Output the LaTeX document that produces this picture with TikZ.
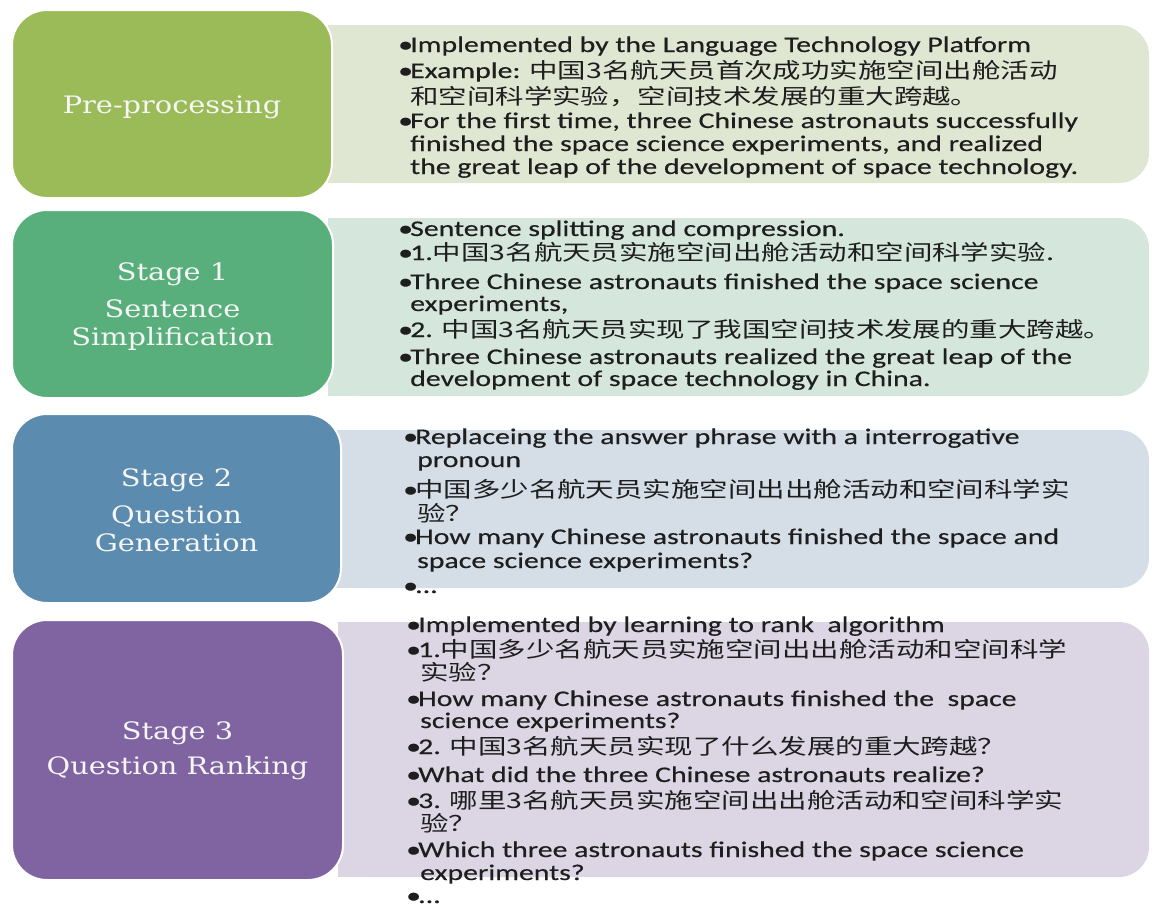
\documentclass[tikz,border=0pt]{standalone}
\usepackage{fontspec}
\setmainfont{Carlito}
\newfontfamily\bodyfont[FakeStretch=1.33,FakeBold=0.4]{Carlito}
\newfontfamily\zhfont[FakeStretch=1.33]{Noto Sans CJK SC}
\newfontfamily\labelfont[FakeStretch=1.2]{DejaVu Serif}
\newcommand\zh[1]{{\zhfont\fontsize{21.4}{23}\selectfont #1}}
\newcommand\bul{\makebox[12pt][l]{•}}
\definecolor{gA}{HTML}{9BBB59}
\definecolor{gB}{HTML}{58AF7B}
\definecolor{gC}{HTML}{5B8BAF}
\definecolor{gD}{HTML}{8064A2}
\definecolor{pA}{HTML}{DFE7D3}
\definecolor{pB}{HTML}{D5E7DC}
\definecolor{pC}{HTML}{D5DEE7}
\definecolor{pD}{HTML}{DCD6E4}
\definecolor{ink}{HTML}{1E1E1E}
\definecolor{paper}{HTML}{F6F6F6}
\begin{document}
\begin{tikzpicture}[x=1pt,y=-1pt,
  stagebox/.style={draw=white, line width=2pt, rounded corners=35pt, inner sep=0pt},
  stagetext/.style={align=center, text=paper, inner sep=0pt,
    font=\labelfont\fontsize{24}{28}\selectfont},
  ln/.style={anchor=base west, inner sep=0pt, text=ink,
    font=\bodyfont\fontsize{22.4}{23}\selectfont}]
\useasboundingbox (0,0) rectangle (1154,906);
% detail panels: square on the left, rounded on the right
\newcommand\panel[5]{%
  \fill[#1, rounded corners=30pt] (#2,#3) rectangle (#4,#5);
  \fill[#1] (#2,#3) rectangle ({#2+100},#5);}
\panel{pA}{328}{25}{1149}{183}
\panel{pB}{328}{218}{1149}{396}
\panel{pC}{336}{430}{1149}{588}
\panel{pD}{338}{622}{1149}{877}

% stage boxes
\node[stagebox, fill=gA, minimum width=320pt, minimum height=188pt] (s0) at (172,104) {};
\node[stagebox, fill=gB, minimum width=321pt, minimum height=188pt] (s1) at (172.5,304) {};
\node[stagebox, fill=gC, minimum width=329pt, minimum height=189pt] (s2) at (176.5,508.5) {};
\node[stagebox, fill=gD, minimum width=331pt, minimum height=260pt] (s3) at (177.5,750) {};

% stage titles
\node[stagetext, yshift=-3pt] (t0) at (s0.center) {Pre-processing};
\node[stagetext, yshift=-3pt] (t1) at (s1.center) {Stage 1\\[9pt]Sentence\\Simplification};
\node[stagetext, yshift=-2pt] (t2) at (s2.center) {Stage 2\\[9pt]Question\\Generation};
\node[stagetext, yshift=-1pt] (t3) at (s3.center) {Stage 3\\[7pt]Question Ranking};

% pre-processing details
\node[ln] (a1) at (398,52) {\bul Implemented by the Language Technology Platform};
\node[ln] (a2) at (398,78) {\bul Example: \zh{中国3名航天员首次成功实施空间出舱活动}};
\node[ln] (a3) at (410,104) {\zh{和空间科学实验，空间技术发展的重大跨越。}};
\node[ln] (a4) at (398,128) {\bul For the first time, three Chinese astronauts successfully};
\node[ln] (a5) at (410,151) {finished the space science experiments, and realized};
\node[ln] (a6) at (410,174) {the great leap of the development of space technology.};

% stage 1 details
\node[ln] (b1) at (398,236) {\bul Sentence splitting and compression.};
\node[ln] (b2) at (398,260) {\bul 1.\zh{中国3名航天员实施空间出舱活动和空间科学实验}.};
\node[ln] (b3) at (398,289) {\bul Three Chinese astronauts finished the space science};
\node[ln] (b4) at (410,311) {experiments,};
\node[ln] (b5) at (398,337) {\bul 2. \zh{中国3名航天员实现了我国空间技术发展的重大跨越。}};
\node[ln] (b6) at (398,364) {\bul Three Chinese astronauts realized the great leap of the};
\node[ln] (b7) at (410,386) {development of space technology in China.};

% stage 2 details
\node[ln] (c1) at (403,444) {\bul Replaceing the answer phrase with a interrogative};
\node[ln] (c2) at (417,467) {pronoun};
\node[ln] (c3) at (403,497) {\bul \zh{中国多少名航天员实施空间出出舱活动和空间科学实}};
\node[ln] (c4) at (417,521) {\zh{验？}};
\node[ln] (c5) at (403,544) {\bul How many Chinese astronauts finished the space and};
\node[ln] (c6) at (417,568) {space science experiments?};
\node[ln] (c7) at (403,593) {\bul ...};

% stage 3 details
\node[ln] (d1) at (406,632) {\bul Implemented by learning to rank\ \ algorithm};
\node[ln] (d2) at (406,657) {\bul 1.\zh{中国多少名航天员实施空间出出舱活动和空间科学}};
\node[ln] (d3) at (420,680) {\zh{实验？}};
\node[ln] (d4) at (406,706) {\bul How many Chinese astronauts finished the\ \ space};
\node[ln] (d5) at (420,728) {science experiments?};
\node[ln] (d6) at (406,754) {\bul 2. \zh{中国3名航天员实现了什么发展的重大跨越？}};
\node[ln] (d7) at (406,782) {\bul What did the three Chinese astronauts realize?};
\node[ln] (d8) at (406,808) {\bul 3. \zh{哪里3名航天员实施空间出出舱活动和空间科学实}};
\node[ln] (d9) at (420,831) {\zh{验？}};
\node[ln] (d10) at (406,857) {\bul Which three astronauts finished the space science};
\node[ln] (d11) at (420,880) {experiments?};
\node[ln] (d12) at (406,903) {\bul ...};
\end{tikzpicture}
\end{document}
